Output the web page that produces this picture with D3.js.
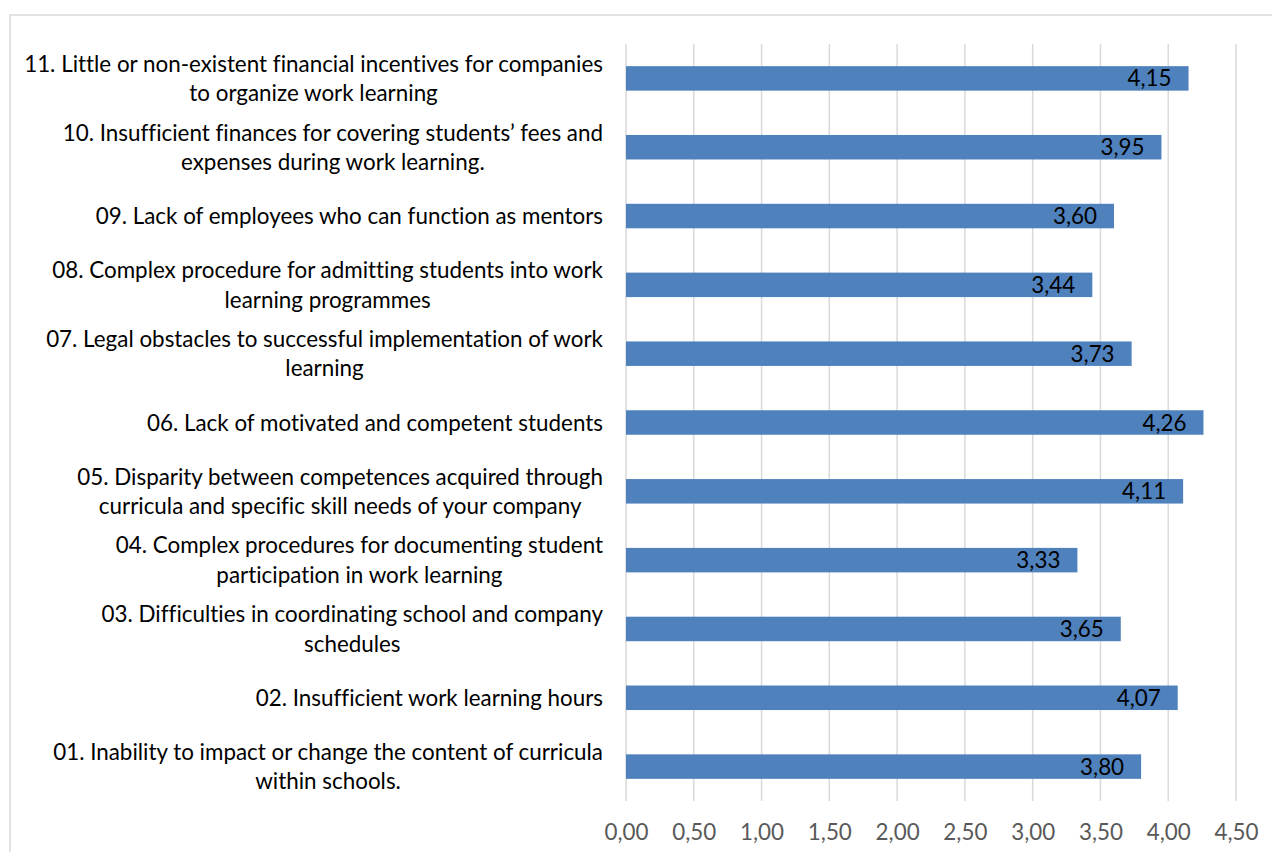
<!DOCTYPE html>
<html>
<head>
<meta charset="utf-8">
<script src="https://cdn.jsdelivr.net/npm/d3@7"></script>
<style>
  html, body { margin: 0; padding: 0; background: #fff; }
  svg { display: block; }
  text { font-family: Lato, "Open Sans", sans-serif; font-variant-ligatures: none; }
</style>
</head>
<body>
<svg id="chart" width="1272" height="852"></svg>
<script>
// Survey obstacles to work learning, mean scores (top to bottom)
const categories = [
  "11. Little or non-existent financial incentives for companies\nto organize work learning",
  "10. Insufficient finances for covering students’ fees and\nexpenses during work learning.",
  "09. Lack of employees who can function as mentors",
  "08. Complex procedure for admitting students into work\nlearning programmes",
  "07. Legal obstacles to successful implementation of work\nlearning",
  "06. Lack of motivated and competent students",
  "05. Disparity between competences acquired through\ncurricula and specific skill needs of your company",
  "04. Complex procedures for documenting student\nparticipation in work learning",
  "03. Difficulties in coordinating school and company\nschedules",
  "02. Insufficient work learning hours",
  "01. Inability to impact or change the content of curricula\nwithin schools."
];
const values = [4.15, 3.95, 3.60, 3.44, 3.73, 4.26, 4.11, 3.33, 3.65, 4.07, 3.80];
const tickValues = [0, 0.5, 1, 1.5, 2, 2.5, 3, 3.5, 4, 4.5];

const fmt = v => v.toFixed(2).replace(".", ",");
const fontSize = 22.4;

const svg = d3.select("#chart");

// chart frame
svg.append("path")
  .attr("d", "M10,852 V15 H1272")
  .attr("fill", "none")
  .attr("stroke", "#d9d9d9")
  .attr("stroke-width", 1.5);

const plot = { left: 626, right: 1236, top: 44, bottom: 801 };

const x = d3.scaleLinear().domain([0, 4.5]).range([plot.left, plot.right]);
const y = d3.scaleBand()
  .domain(d3.range(categories.length))
  .range([plot.top, plot.bottom])
  .paddingInner(0.644)
  .paddingOuter(0.322);

// vertical gridlines
svg.append("g")
  .selectAll("line")
  .data(tickValues)
  .join("line")
  .attr("x1", d => x(d)).attr("x2", d => x(d))
  .attr("y1", plot.top).attr("y2", plot.bottom)
  .attr("stroke", "#d9d9d9")
  .attr("stroke-width", 1.5);

// x axis tick labels
const xAxis = d3.axisBottom(x).tickValues(tickValues).tickFormat(fmt).tickSize(0).tickPadding(0);
const gx = svg.append("g")
  .attr("transform", `translate(0,${plot.bottom})`)
  .call(xAxis);
gx.select(".domain").remove();
gx.selectAll("text")
  .attr("y", 39)
  .attr("dy", null)
  .attr("fill", "#595959")
  .style("font-family", "Lato, 'Open Sans', sans-serif")
  .style("font-size", fontSize + "px");

// bars
svg.append("g")
  .selectAll("rect")
  .data(values)
  .join("rect")
  .attr("x", x(0))
  .attr("y", (d, i) => y(i))
  .attr("width", d => x(d) - x(0))
  .attr("height", y.bandwidth())
  .attr("fill", "#4f81bd");

// value labels inside bar ends
svg.append("g")
  .selectAll("text")
  .data(values)
  .join("text")
  .attr("x", d => x(d) - 17)
  .attr("y", (d, i) => y(i) + y.bandwidth() / 2)
  .attr("dy", "0.36em")
  .attr("text-anchor", "end")
  .attr("fill", "#000")
  .style("font-size", fontSize + "px")
  .text(fmt);

// category labels: lines centred within a block right-aligned to the axis
const labelRight = 603;
const lineH = 29.5;
const gl = svg.append("g");
categories.forEach((c, i) => {
  const lines = c.split("\n");
  const cy = y(i) + y.bandwidth() / 2;
  const t = gl.append("text")
    .attr("fill", "#000")
    .attr("text-anchor", "middle")
    .style("font-size", fontSize + "px");
  const spans = lines.map((ln, k) =>
    t.append("tspan")
      .attr("y", cy + (k - (lines.length - 1) / 2) * lineH)
      .attr("dy", "0.36em")
      .text(ln));
  const w = d3.max(spans, s => s.node().getComputedTextLength());
  spans.forEach(s => s.attr("x", labelRight - w / 2));
});
</script>
</body>
</html>
